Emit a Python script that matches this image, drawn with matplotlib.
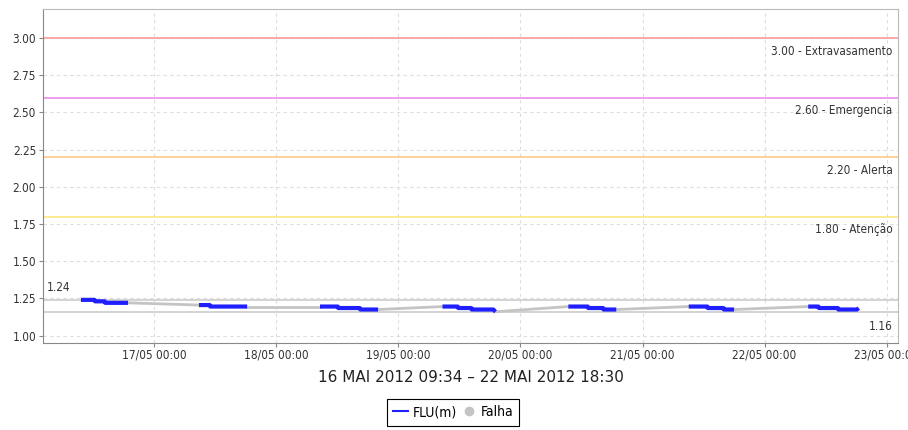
import matplotlib
matplotlib.use("Agg")
import matplotlib.pyplot as plt
from matplotlib.lines import Line2D
from datetime import datetime

# FLU(m) readings, one list per day (time, level)
day_times = [
    ["2012-05-16 09:34", "2012-05-16 12:15", "2012-05-16 12:20", "2012-05-16 14:15", "2012-05-16 14:20", "2012-05-16 18:50"],
    ["2012-05-17 08:47", "2012-05-17 10:55", "2012-05-17 11:00", "2012-05-17 18:15"],
    ["2012-05-18 08:35", "2012-05-18 12:05", "2012-05-18 12:10", "2012-05-18 16:25", "2012-05-18 16:30", "2012-05-18 20:00"],
    ["2012-05-19 08:40", "2012-05-19 11:40", "2012-05-19 11:45", "2012-05-19 14:20", "2012-05-19 14:25", "2012-05-19 18:40", "2012-05-19 19:05"],
    ["2012-05-20 09:25", "2012-05-20 13:15", "2012-05-20 13:20", "2012-05-20 16:15", "2012-05-20 16:20", "2012-05-20 18:50"],
    ["2012-05-21 09:05", "2012-05-21 12:45", "2012-05-21 12:50", "2012-05-21 15:55", "2012-05-21 16:00", "2012-05-21 18:00"],
    ["2012-05-22 08:35", "2012-05-22 10:35", "2012-05-22 10:40", "2012-05-22 14:25", "2012-05-22 14:30", "2012-05-22 18:10", "2012-05-22 18:30"],
]
day_values = [
    [1.24, 1.24, 1.23, 1.23, 1.22, 1.22],
    [1.205, 1.205, 1.195, 1.195],
    [1.195, 1.195, 1.185, 1.185, 1.175, 1.175],
    [1.195, 1.195, 1.185, 1.185, 1.175, 1.175, 1.16],
    [1.195, 1.195, 1.185, 1.185, 1.175, 1.175],
    [1.195, 1.195, 1.185, 1.185, 1.175, 1.175],
    [1.195, 1.195, 1.185, 1.185, 1.175, 1.175, 1.185],
]

# alert levels
level_values = [3.00, 2.60, 2.20, 1.80]
level_names = ["Extravasamento", "Emergencia", "Alerta", "Atenção"]
level_colors = ["#ff9a9a", "#ec8cec", "#ffc88c", "#ffe680"]

x_tick_labels = ["17/05 00:00", "18/05 00:00", "19/05 00:00", "20/05 00:00",
                 "21/05 00:00", "22/05 00:00", "23/05 00:00"]
y_ticks = [1.00, 1.25, 1.50, 1.75, 2.00, 2.25, 2.50, 2.75, 3.00]

cond = dict(family="DejaVu Sans", stretch="condensed")

fig = plt.figure(figsize=(9.08, 4.30), dpi=100)
ax = fig.add_axes([43 / 908, 1 - 343 / 430, 855 / 908, 334 / 430])

to_dt = lambda s: datetime.strptime(s, "%Y-%m-%d %H:%M")
days = [[to_dt(s) for s in d] for d in day_times]

# failure (gap) lines between days
for i in range(len(days) - 1):
    ax.plot([days[i][-1], days[i + 1][0]], [day_values[i][-1], day_values[i + 1][0]],
            color="#c4c4c4", lw=2, zorder=2)

for d, v in zip(days, day_values):
    ax.plot(d, v, color="#1f1fff", lw=3, solid_capstyle="butt", zorder=3)

# max / min lines
all_vals = [x for v in day_values for x in v]
vmax, vmin = max(all_vals), min(all_vals)
for v in (vmax, vmin):
    ax.axhline(v, color="#cccccc", lw=1.2, zorder=1)
ax.annotate(f"{vmax:.2f}", xy=(0, vmax), xycoords=ax.get_yaxis_transform(),
            xytext=(3, 4), textcoords="offset points", ha="left", va="bottom",
            fontsize=8.5, color="#333333", **cond)
ax.annotate(f"{vmin:.2f}", xy=(1, vmin), xycoords=ax.get_yaxis_transform(),
            xytext=(-4, -6), textcoords="offset points", ha="right", va="top",
            fontsize=8.5, color="#333333", **cond)

# alert levels
for val, name, col in zip(level_values, level_names, level_colors):
    ax.axhline(val, color=col, lw=1.2, zorder=1)
    ax.annotate(f"{val:.2f} - {name}", xy=(1, val), xycoords=ax.get_yaxis_transform(),
                xytext=(-4, -5), textcoords="offset points", ha="right", va="top",
                fontsize=8.5, color="#333333", **cond)

ax.set_xlim(datetime(2012, 5, 16, 2, 7), datetime(2012, 5, 23, 2, 14))
ax.set_ylim(0.95, 3.195)
ax.set_xticks([datetime.strptime(s, "%d/%m %H:%M").replace(year=2012) for s in x_tick_labels])
ax.set_xticklabels(x_tick_labels, **cond)
ax.set_yticks(y_ticks)
ax.set_yticklabels([f"{t:.2f}" for t in y_ticks], **cond)
ax.tick_params(labelsize=8.5, colors="#333333", length=3, color="#888888", pad=2)
ax.tick_params(axis="x", pad=1)
ax.grid(True, color="#dddddd", ls=(0, (3, 3)), lw=0.8)
ax.set_axisbelow(True)
for side in ("top", "right"):
    ax.spines[side].set_color("#bbbbbb")
for side in ("left", "bottom"):
    ax.spines[side].set_color("#888888")

ax.set_xlabel("16 MAI 2012 09:34 – 22 MAI 2012 18:30", fontsize=11, color="#222222", labelpad=6)

handles = [Line2D([], [], color="#1f1fff", lw=1.5),
           Line2D([], [], color="#c4c4c4", marker="o", ls="none", markersize=6)]
leg = fig.legend(handles, ["FLU(m)", "Falha"], loc="upper center",
                 bbox_to_anchor=(0.499, 1 - 399 / 430),
                 ncol=2, frameon=True, fancybox=False, edgecolor="black", framealpha=1,
                 handlelength=1.1, handletextpad=0.3, columnspacing=0.3, borderpad=0.45,
                 borderaxespad=0.0, prop=dict(size=10, **cond))
leg.get_frame().set_linewidth(0.8)

fig.savefig("out.png", dpi=100)
